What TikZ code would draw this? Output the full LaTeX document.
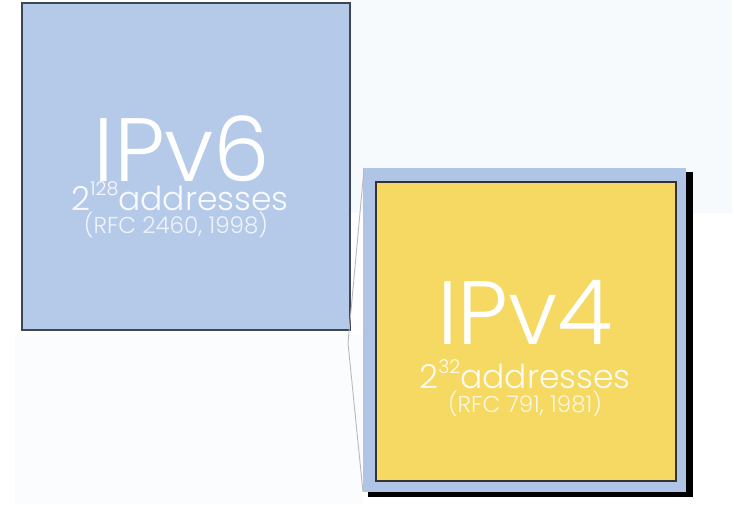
\documentclass[tikz,border=0pt]{standalone}
\usepackage{fontspec}
\newfontfamily\gothic{Poppins Light}
\definecolor{sqblue}{HTML}{B5CAE8}
\definecolor{frameblue}{HTML}{B0C4E6}
\definecolor{sqyellow}{HTML}{F5D962}
\definecolor{edgeblue}{HTML}{3C4654}
\definecolor{faint}{HTML}{F7FAFD}
\definecolor{fainter}{HTML}{FBFCFE}
\tikzset{
  box/.style={inner sep=0pt, outer sep=0pt, anchor=north west},
  bigtxt/.style={text=white, anchor=base, inner sep=0pt, font=\gothic\fontsize{90}{90}\selectfont},
  midtxt/.style={text=white, text opacity=0.92, anchor=base, inner sep=0pt, font=\gothic\fontsize{33}{33}\selectfont},
  smalltxt/.style={text=white, text opacity=0.8, anchor=base, inner sep=0pt, font=\gothic\fontsize{23}{23}\selectfont},
}
\newcommand{\supnum}[1]{\raisebox{0.45em}{\fontsize{19}{19}\selectfont #1}}
\begin{document}
\begin{tikzpicture}[x=1pt,y=-1pt]
\useasboundingbox (0,0) rectangle (734,504);
\fill[white] (0,0) rectangle (734,504);
% faint background patches
\fill[faint] (350,0) rectangle (732,213);
\fill[fainter] (15,335) rectangle (362,504);
% IPv6 square
\node[box, draw=edgeblue, line width=1.3pt, fill=sqblue, minimum width=328pt, minimum height=327pt] (v6) at (22,3) {};
\node[bigtxt] (v6t) at (182,181) {IPv6};
\node[midtxt] (v6a) at (180,210) {2\supnum{128}addresses};
\node[smalltxt] (v6r) at (176,233) {(RFC 2460, 1998)};
% IPv4 frame with shadow
\fill[black] (368,172) rectangle (693,497);
\node[box, fill=frameblue, minimum width=323pt, minimum height=324pt] (v4f) at (363,168) {};
\node[box, draw=black!80, line width=1.2pt, fill=sqyellow, minimum width=300pt, minimum height=299pt] (v4) at (376,182) {};
\node[bigtxt] (v4t) at (525,344) {IPv4};
\node[midtxt] (v4a) at (525,388) {2\supnum{32}addresses};
\node[smalltxt] (v4r) at (525,412) {(RFC 791, 1981)};
% callout line
\draw[gray!55, line width=0.9pt] (364,169) -- (348,343) -- (363,492);
\end{tikzpicture}
\end{document}
